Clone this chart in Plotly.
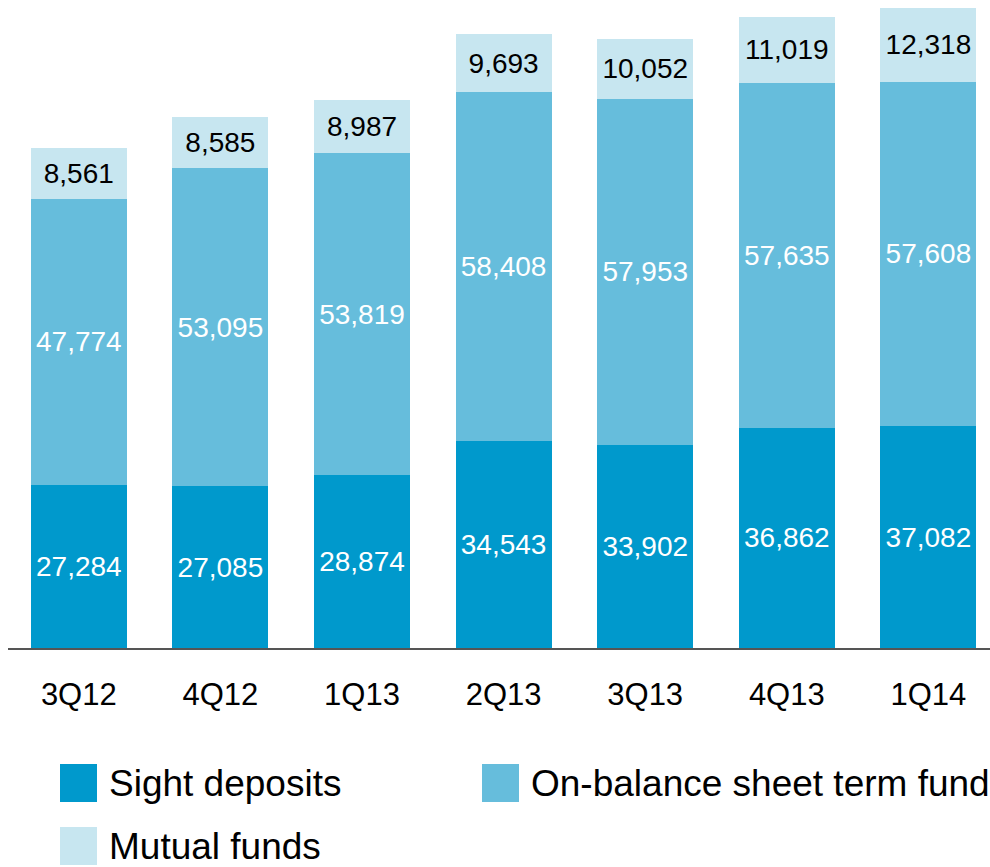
import plotly.graph_objects as go

quarters = ["3Q12", "4Q12", "1Q13", "2Q13", "3Q13", "4Q13", "1Q14"]
sight_deposits = [27284, 27085, 28874, 34543, 33902, 36862, 37082]
term_funds = [47774, 53095, 53819, 58408, 57953, 57635, 57608]
mutual_funds = [8561, 8585, 8987, 9693, 10052, 11019, 12318]

series_names = ["Sight deposits", "On-balance sheet term fund", "Mutual funds"]
series_colors = ["#0099CC", "#66BDDC", "#C7E6F0"]
label_colors = ["white", "white", "black"]

W, H = 990, 867
ML, MR, MT, MB = 8, 0, 0, 219
plot_w = W - ML - MR
plot_h = H - MT - MB
FONT = "Liberation Sans, Arial, sans-serif"

fig = go.Figure()
for name, vals, col, lc in zip(series_names, [sight_deposits, term_funds, mutual_funds],
                               series_colors, label_colors):
    fig.add_trace(go.Bar(
        x=quarters, y=vals, name=name, marker=dict(color=col, line=dict(width=0)),
        text=[f"{v:,}" for v in vals], textposition="inside",
        insidetextanchor="middle", textangle=0,
        textfont=dict(family=FONT, size=28, color=lc),
        showlegend=False,
    ))

# pixel -> paper helpers for the hand-placed legend
def px(xp):
    return (xp - ML) / plot_w

def py(yp):
    return (MT + plot_h - yp) / plot_h

legend_items = [(60, 783, 0), (482, 783, 1), (60, 846, 2)]
shapes = []
annotations = []
for x0, yc, i in legend_items:
    shapes.append(dict(type="rect", xref="paper", yref="paper",
                       x0=px(x0), x1=px(x0 + 37), y0=py(yc - 19), y1=py(yc + 19),
                       fillcolor=series_colors[i], line=dict(width=0)))
    annotations.append(dict(xref="paper", yref="paper", x=px(x0 + 47), y=py(yc),
                            xanchor="left", yanchor="middle", showarrow=False,
                            text=series_names[i],
                            font=dict(family=FONT, size=37, color="black")))

fig.update_layout(
    width=W, height=H, barmode="stack", bargap=0.322,
    margin=dict(l=ML, r=MR, t=MT, b=MB),
    paper_bgcolor="white", plot_bgcolor="white",
    font=dict(family=FONT),
    xaxis=dict(range=[-0.5, -0.5 + plot_w / 141.6], showline=True, linecolor="#555555",
               linewidth=1.5, showgrid=False, ticks="outside", ticklen=18,
               tickcolor="rgba(0,0,0,0)",
               tickfont=dict(family=FONT, size=31, color="black")),
    yaxis=dict(range=[0, 108350], visible=False, showgrid=False),
    shapes=shapes, annotations=annotations,
)

fig.write_html("out.html")
